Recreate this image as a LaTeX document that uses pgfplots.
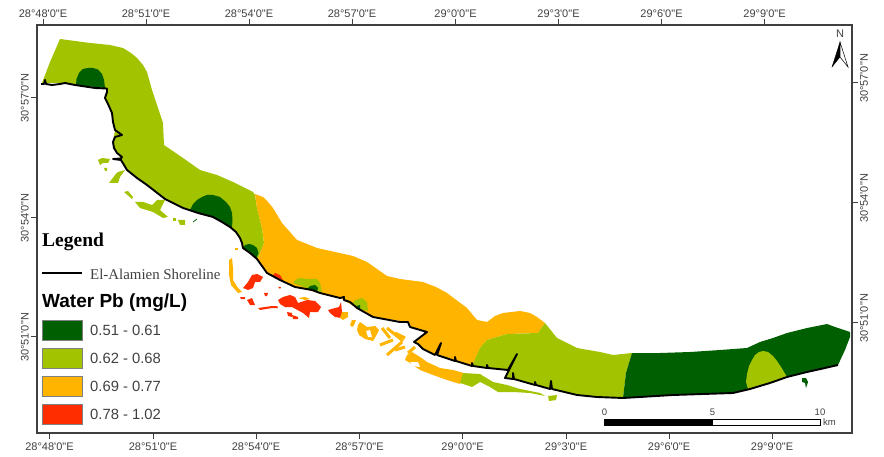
\documentclass[border=0pt]{standalone}
\usepackage{fontspec}
\usepackage{pgfplots}
\pgfplotsset{compat=1.18}
\setmainfont{Liberation Sans}
\newfontfamily\lab{Liberation Sans}
\newfontfamily\ser{Liberation Serif}
\definecolor{lg}{HTML}{A2C300}
\definecolor{dg}{HTML}{005F00}
\definecolor{or}{HTML}{FFB400}
\definecolor{rd}{HTML}{FF2D00}
\definecolor{fr}{HTML}{404040}
\pgfplotsset{
  base/.style={
    at={(37pt,24pt)}, anchor=south west,
    scale only axis, width=815pt, height=408pt,
    xmin=37, xmax=852, ymin=25, ymax=433, y dir=reverse,
    clip=false, axis line style={fr,line width=1.1pt},
    tick style={fr,line width=0.9pt}, major tick length=6pt, tick align=outside,
    ticklabel style={font=\lab\fontsize{11}{12}\selectfont,text=fr},
    xticklabel style={inner sep=1pt},
  }
}
\begin{document}
\begin{tikzpicture}[x=1pt,y=1pt]
\path (0,0) rectangle (884,457);
% top and right ticks
\begin{axis}[base,
  xtick={43,146,249,352,455.5,558.5,661.5,764.5},
  xticklabels={28°48'0"E,28°51'0"E,28°54'0"E,28°57'0"E,29°0'0"E,29°3'0"E,29°6'0"E,29°9'0"E},
  ytick={82,202,322},
  yticklabels={30°57'0"N,30°54'0"N,30°51'0"N},
  xtick pos=upper, xticklabel pos=upper,
  ytick pos=right, yticklabel pos=right,
  yticklabel style={rotate=90,anchor=north,inner sep=2pt,xshift=3.5pt},
]
\end{axis}
% bottom and left ticks, map
\begin{axis}[base,
  xtick={49.5,153,256,359.5,462.5,566,669,772},
  xticklabels={28°48'0"E,28°51'0"E,28°54'0"E,28°57'0"E,29°0'0"E,29°3'0"E,29°6'0"E,29°9'0"E},
  ytick={97,217,336.5},
  yticklabels={30°57'0"N,30°54'0"N,30°51'0"N},
  xtick pos=lower, xticklabel pos=lower,
  ytick pos=left, yticklabel pos=left,
  xticklabel style={yshift=-3pt},
  yticklabel style={rotate=90,anchor=south,inner sep=2pt,xshift=-1pt},
]
% light green west
\addplot[fill=lg,draw=none] coordinates {(42,83)(50,62)(60,39)(75,41)(90,43)(110,45)(123,48)(131,53)(137,58)(143,65)(147,72)(152,90)(157,105)(163,123)(164,145)(183,158)(200,170)(217,175)(233,182)(253,192)(255,195)(257,208)(262,228)(264,243)(258,259)(250,253)(243,248)(240,238)(230,227)(213,217)(183,208)(165,199)(147,185)(127,170)(122,160)(115,150)(113,142)(115,130)(112,113)(105,98)(107,88)(85,86)(65,83)} -- cycle;
% orange
\addplot[fill=or,draw=none] coordinates {(255,194)(263,197)(268,202)(273,208)(282,223)(297,240)(317,248)(353,256)(367,262)(387,276)(400,279)(423,282)(436,287)(447,293)(467,308)(477,320)(487,322)(495,316)(503,313)(520,311)(530,313)(537,317)(545,323)(538,333)(507,334)(487,340)(480,348)(472,366)(455,361)(437,355)(423,349)(414,342)(427,332)(410,327)(408,322)(373,317)(357,308)(340,298)(320,293)(295,287)(280,280)(267,273)(258,259)(264,243)(262,228)(257,208)} -- cycle;
% light green centre
\addplot[fill=lg,draw=none] coordinates {(472,366)(480,348)(487,340)(507,334)(538,333)(545,323)(557,338)(577,348)(600,352)(613,355)(632,353)(626,373)(623,398)(597,397)(577,395)(552,389)(535,385)(513,379)(505,378)(508,370)(487,368)} -- cycle;
% dark green east
\addplot[fill=dg,draw=none] coordinates {(632,353)(660,353)(690,352)(720,350)(747,348)(760,342)(773,338)(787,333)(807,328)(827,324)(835,327)(850,332)(850,337)(845,350)(838,365)(807,372)(787,377)(750,389)(733,393)(673,395)(640,397)(623,398)(626,373)} -- cycle;
% light green patch in the east
\addplot[fill=lg,draw=none] coordinates {(748,389)(746,382)(747,374)(749,366)(752,360)(755,355)(759,352)(763,351)(768,352)(773,356)(777,361)(781,367)(784,372)(787,377)} -- cycle;
% dark circles
\addplot[fill=dg,draw=none] coordinates {(76,85)(76.5,79)(79,73)(83,69)(88,68)(93,68)(98,69.5)(102,74)(104,80)(105,88)(85,86)} -- cycle;
\addplot[fill=dg,draw=none] coordinates {(190,210)(193,204)(197,200)(202,197)(207,195)(213,195)(220,197)(226,202)(230,207)(232,213)(232.5,220)(232,228)(213,217)} -- cycle;
\addplot[fill=dg,draw=none] coordinates {(243,248)(245,245)(249,244)(253,245)(257,248)(258.5,253)(256,259)(250,253)} -- cycle;
% small patches on the shore
\addplot[fill=lg,draw=none] coordinates {(293,283)(295,280)(300,278)(308,279)(317,279)(320,283)(322,293)(312,290)} -- cycle;
\addplot[fill=dg,draw=none] coordinates {(307,289)(310,286)(315,285)(318,288)(317,292)} -- cycle;
\addplot[fill=lg,draw=none] coordinates {(352,304)(355,300)(362,298)(367,302)(368,311)(358,309)} -- cycle;
\addplot[fill=dg,draw=none] coordinates {(356,306)(360,305)(360,310)} -- cycle;
\addplot[fill=rd,draw=none] coordinates {(272,276)(275,273)(280,275)(283,280)} -- cycle;
% light green islands
\addplot[fill=lg,draw=none] coordinates {(98,160)(102,158)(110,159)(108,163)(103,163)(100,165)} -- cycle;
\addplot[fill=lg,draw=none] coordinates {(104,168)(107,168)(107,171)(105,171)} -- cycle;
\addplot[fill=lg,draw=none] coordinates {(109,183)(115,175)(118,172)(125,170)(120,177)(118,183)} -- cycle;
\addplot[fill=lg,draw=none] coordinates {(124,192)(128,191)(133,197)(132,199)} -- cycle;
\addplot[fill=lg,draw=none] coordinates {(135,202)(143,202)(152,205)(157,200)(165,200)(160,210)(168,217)(163,218)(153,212)(140,208)} -- cycle;
\addplot[fill=lg,draw=none] coordinates {(173,218)(176,218)(176,221)(173,221)} -- cycle;
\addplot[fill=lg,draw=none] coordinates {(178,220)(185,220)(185,225)(180,225)} -- cycle;
\addplot[dg,line width=0.7pt] coordinates {(193,222)(197,219)};
% orange strip near the legend
\addplot[fill=or,draw=none] coordinates {(229,260)(232,258)(233,268)(233,280)(238,288)(242,292)(238,293)(231,285)(229,275)} -- cycle;
\addplot[fill=or,draw=none] coordinates {(235,248)(238,248)(238,250)(235,250)} -- cycle;
% red islands
\addplot[fill=rd,draw=none] coordinates {(243,288)(248,282)(252,275)(257,274)(263,277)(260,282)(255,282)(253,288)(248,290)} -- cycle;
\addplot[fill=rd,draw=none] coordinates {(240,297)(245,297)(245,299)(241,299)} -- cycle;
\addplot[fill=rd,draw=none] coordinates {(247,300)(252,298)(255,305)(250,305)} -- cycle;
\addplot[fill=rd,draw=none] coordinates {(258,308)(272,306)(277,306)(278,308)(272,308)(260,310)} -- cycle;
\addplot[fill=rd,draw=none] coordinates {(278,300)(283,297)(290,295)(295,297)(298,303)(307,300)(315,301)(321,307)(318,312)(310,312)(309,318)(303,313)(292,307)(285,307)(280,304)} -- cycle;
\addplot[fill=rd,draw=none] coordinates {(287,312)(292,313)(292,317)(288,316)} -- cycle;
\addplot[fill=rd,draw=none] coordinates {(292,315)(298,317)(298,319)(293,319)} -- cycle;
\addplot[fill=rd,draw=none] coordinates {(328,310)(335,308)(339,307)(341,302)(342,312)(341,318)(335,317)(330,313)} -- cycle;
\addplot[fill=rd,draw=none] coordinates {(264,293)(268,293)(267,296)(265,296)} -- cycle;
\addplot[fill=rd,draw=none] coordinates {(278,287)(281,287)(280,289)} -- cycle;
% orange islands
\addplot[fill=or,draw=none] coordinates {(298,298)(305,297)(310,299)(305,300)} -- cycle;
\addplot[fill=or,draw=none] coordinates {(340,318)(342,312)(348,312)(348,317)(343,320)} -- cycle;
\addplot[fill=or,draw=none] coordinates {(350,325)(352,320)(356,320)(354,325)(352,327)} -- cycle;
\addplot[fill=or,draw=none] coordinates {(358,325)(360,322)(367,327)(375,326)(379,330)(376,336)(373,341)(365,339)(359,335)(357,330)} -- cycle;
\addplot[fill=white,draw=none] coordinates {(366,331)(370,330)(372,337)(368,337)} -- cycle;
\addplot[or,line width=3pt] coordinates {(382,328)(390,338)};
\addplot[or,line width=3pt] coordinates {(387,328)(403,341)};
\addplot[or,line width=3pt] coordinates {(395,333)(405,338)};
\addplot[or,line width=3pt] coordinates {(380,345)(393,340)};
\addplot[or,line width=3pt] coordinates {(387,355)(402,342)};
\addplot[or,line width=3pt] coordinates {(395,350)(405,347)};
\addplot[or,line width=3pt] coordinates {(408,353)(415,347)};
\addplot[fill=or,draw=none] coordinates {(405,360)(407,355)(412,352)(420,357)(427,362)(440,368)(453,370)(464,373)(460,384)(447,380)(433,375)(420,370)(410,363)} -- cycle;
\addplot[fill=white,draw=none] coordinates {(410,362)(418,362)(420,367)(413,366)} -- cycle;
% light green islands, south
\addplot[fill=lg,draw=none] coordinates {(463,373)(480,374)(493,382)(507,385)(520,389)(540,393)(545,396)(530,393)(513,392)(498,392)(490,387)(480,382)(472,387)(460,383)} -- cycle;
\addplot[fill=lg,draw=none] coordinates {(548,396)(557,395)(556,400)(549,401)} -- cycle;
% dark speck
\addplot[fill=dg,draw=none] coordinates {(802,378)(806,378)(808,382)(806,388)(805,383)(802,382)} -- cycle;
% shoreline
\addplot[black,line width=1.9pt,line join=round] coordinates {(41,84)(44,84)(45,80)(46,84)(52,85)(60,84)(65,83)(75,85)(85,86.5)(95,88)(107,88.5)(107,92)(105,98)(108,104)(112,113)(113,122)(115,130)(122,135)(115,137)(113,142)(114,148)(117,153)(122,157)(121,158.5)(113,159)(121,160)(124,165)(127,170)(137,178)(147,185)(156,192)(165,199)(175,204)(183,208)(198,213)(213,217)(222,222)(230,227)(236,232)(240,238)(242,243)(243,248)(250,253)(257,259)(262,266)(267,273)(280,280)(295,287)(312,290)(320,293)(340,298)(344,297)(344,300)(350,302)(357,308)(373,317)(400,322)(408,322)(410,327)(427,332)(414,342)(418,344)(423,349)(435,355)(441,343)(437,355)(455,361)(455,357)(456,361)(472,366)(472,363)(473,366)(487,368)(487,365)(488,368)(508,370)(517,354)(505,378)(513,379)(513,373)(514,379)(535,385)(535,382)(536,385)(550,389)(551,381)(552,389)(577,395)(597,397)(623,398)(640,397)(673,395)(733,393)(750,389)(770,383)(787,377)(807,372)(825,368)(838,365)};
% legend
\node[anchor=west,inner sep=0pt,font=\ser\bfseries\fontsize{19.5}{20}\selectfont] at (axis cs:42,242) {Legend};
\addplot[black,line width=1.7pt] coordinates {(42,273)(82,273)};
\node[anchor=west,inner sep=0pt,text=fr,font=\ser\fontsize{14.9}{16}\selectfont] at (axis cs:90,274) {El-Alamien Shoreline};
\node[anchor=west,inner sep=0pt,font=\lab\bfseries\fontsize{19}{20}\selectfont] at (axis cs:42,303) {Water Pb (mg/L)};
\addplot[fill=dg,draw=gray,line width=0.7pt] coordinates {(42,320)(82,320)(82,340)(42,340)} -- cycle;
\addplot[fill=lg,draw=gray,line width=0.7pt] coordinates {(42,348)(82,348)(82,368)(42,368)} -- cycle;
\addplot[fill=or,draw=gray,line width=0.7pt] coordinates {(42,376)(82,376)(82,396)(42,396)} -- cycle;
\addplot[fill=rd,draw=gray,line width=0.7pt] coordinates {(42,404)(82,404)(82,424)(42,424)} -- cycle;
\node[anchor=west,inner sep=0pt,text=fr,font=\lab\fontsize{14.8}{16}\selectfont] at (axis cs:90,330) {0.51 - 0.61};
\node[anchor=west,inner sep=0pt,text=fr,font=\lab\fontsize{14.8}{16}\selectfont] at (axis cs:90,358) {0.62 - 0.68};
\node[anchor=west,inner sep=0pt,text=fr,font=\lab\fontsize{14.8}{16}\selectfont] at (axis cs:90,386) {0.69 - 0.77};
\node[anchor=west,inner sep=0pt,text=fr,font=\lab\fontsize{14.8}{16}\selectfont] at (axis cs:90,414) {0.78 - 1.02};
% scale bar
\addplot[fill=black,draw=black,line width=0.6pt] coordinates {(604,419.5)(712.5,419.5)(712.5,425)(604,425)} -- cycle;
\addplot[fill=white,draw=black,line width=0.6pt] coordinates {(712.5,419.5)(820,419.5)(820,425)(712.5,425)} -- cycle;
\node[inner sep=0pt,text=fr,font=\lab\fontsize{9.5}{11}\selectfont] at (axis cs:604.5,412) {0};
\node[inner sep=0pt,text=fr,font=\lab\fontsize{9.5}{11}\selectfont] at (axis cs:712.5,412) {5};
\node[inner sep=0pt,text=fr,font=\lab\fontsize{9.5}{11}\selectfont] at (axis cs:820,412) {10};
\node[anchor=west,inner sep=0pt,text=fr,font=\lab\fontsize{9.5}{11}\selectfont] at (axis cs:823,422) {km};
% north arrow
\node[inner sep=0pt,text=fr,font=\lab\fontsize{11}{12}\selectfont] at (axis cs:840,34) {N};
\addplot[fill=black,draw=black,line width=0.3pt] coordinates {(840,42)(832,67)(840,57)} -- cycle;
\addplot[fill=white,draw=black,line width=0.5pt] coordinates {(840,42)(848,67)(840,57)} -- cycle;
\end{axis}
\end{tikzpicture}
\end{document}
